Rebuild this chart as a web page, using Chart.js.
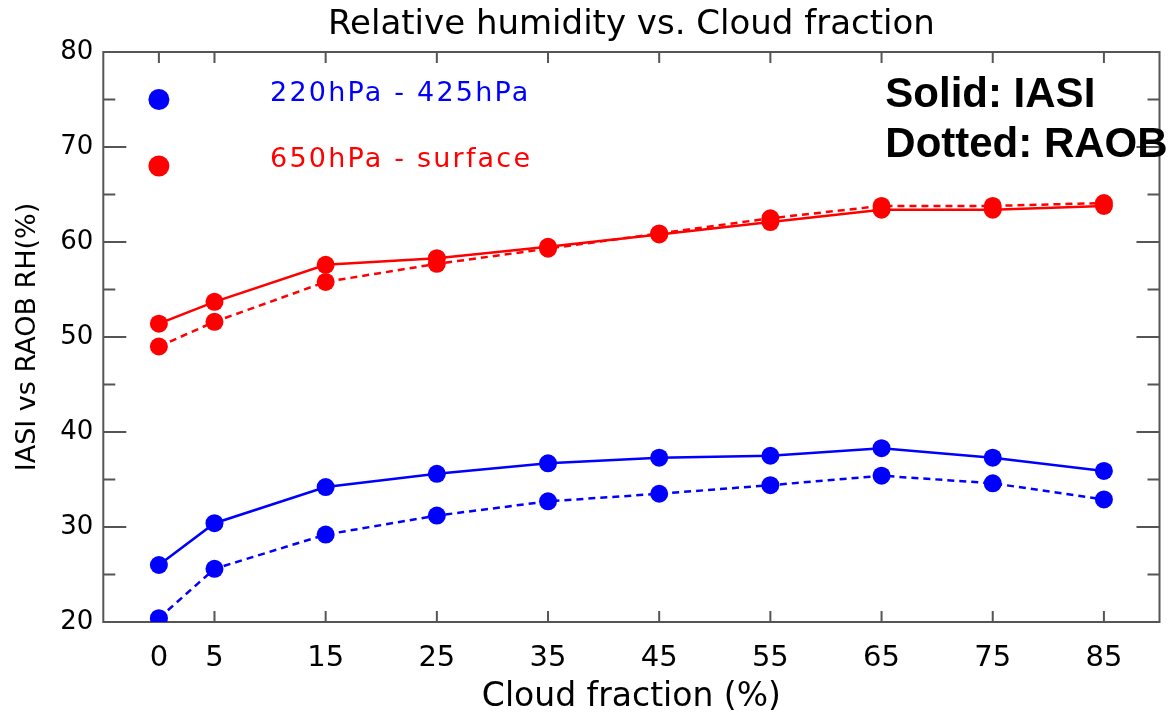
<!DOCTYPE html>
<html>
<head>
<meta charset="utf-8">
<title>Relative humidity vs. Cloud fraction</title>
<script src="https://cdn.jsdelivr.net/npm/chart.js@4.4.1/dist/chart.umd.min.js"></script>
<style>
  html, body { margin: 0; padding: 0; background: #fff; }
  canvas { display: block; }
</style>
</head>
<body>
<canvas id="rh-chart" width="1170" height="718"></canvas>
<script>
// cloud fraction bins (%)
const cloudFraction = [0, 5, 15, 25, 35, 45, 55, 65, 75, 85];
const xTicks = [0, 5, 15, 25, 35, 45, 55, 65, 75, 85];

// 220hPa - 425hPa layer
const upperIASI = [26.0, 30.4, 34.2, 35.6, 36.7, 37.3, 37.5, 38.3, 37.3, 35.9];
const upperRAOB = [20.4, 25.6, 29.2, 31.2, 32.7, 33.5, 34.4, 35.4, 34.6, 32.9];

// 650hPa - surface layer
const lowerIASI = [51.4, 53.7, 57.6, 58.3, 59.5, 60.8, 62.1, 63.4, 63.4, 63.8];
const lowerRAOB = [49.0, 51.6, 55.8, 57.7, 59.3, 60.9, 62.5, 63.8, 63.8, 64.1];

// legend markers are plotted inside the axes at x = 0
const legendY = [75, 68];
const legendLabels = ["220hPa - 425hPa", "650hPa - surface"];

const TITLE = "Relative humidity vs. Cloud fraction";
const BLUE = "#0000ff";
const RED = "#ff0000";
const FONT = "'DejaVu Sans', sans-serif";

Chart.defaults.font.family = FONT;
Chart.defaults.color = "#000";

const toPoints = (ys) => cloudFraction.map((x, i) => ({ x: x, y: ys[i] }));

function lineSet(label, ys, color, dashed) {
  return {
    label: label,
    data: toPoints(ys),
    showLine: true,
    borderColor: color,
    backgroundColor: color,
    borderWidth: 2.5,
    borderDash: dashed ? [7, 5] : [],
    pointRadius: 9,
    pointHoverRadius: 9,
    pointBorderWidth: 0,
    pointBackgroundColor: color,
    clip: 0,
  };
}

function legendDot(y, color) {
  return {
    label: "",
    data: [{ x: 0, y: y }],
    showLine: false,
    pointRadius: 10.5,
    pointBorderWidth: 0,
    pointBackgroundColor: color,
    backgroundColor: color,
  };
}

// box frame with inward ticks on all four sides, plus the text annotations
const frameAxes = {
  id: "frameAxes",
  beforeDatasetsDraw(chart) {
    const { ctx, chartArea: a, scales } = chart;
    const x = scales.x, y = scales.y;
    ctx.save();
    ctx.strokeStyle = "#555";
    ctx.lineWidth = 2;
    ctx.strokeRect(a.left, a.top, a.right - a.left, a.bottom - a.top);
    ctx.beginPath();
    for (let v = y.min; v <= y.max; v += 5) {
      const py = y.getPixelForValue(v);
      const len = v % 10 === 0 ? 23 : 12;
      ctx.moveTo(a.left, py);
      ctx.lineTo(a.left + len, py);
      ctx.moveTo(a.right, py);
      ctx.lineTo(a.right - len, py);
    }
    xTicks.forEach((v) => {
      const px = x.getPixelForValue(v);
      ctx.moveTo(px, a.bottom);
      ctx.lineTo(px, a.bottom - 11);
      ctx.moveTo(px, a.top);
      ctx.lineTo(px, a.top + 11);
    });
    ctx.stroke();
    ctx.restore();
  },
  afterDraw(chart) {
    const { ctx, chartArea: a, scales } = chart;
    const x = scales.x, y = scales.y;
    ctx.save();
    // title centred over the plot box
    ctx.fillStyle = "#000";
    ctx.font = "34px " + FONT;
    ctx.textAlign = "center";
    ctx.textBaseline = "middle";
    ctx.fillText(TITLE, (a.left + a.right) / 2, 25);

    // layer labels next to the legend dots
    ctx.font = "27px " + FONT;
    ctx.letterSpacing = "2.2px";
    ctx.textBaseline = "alphabetic";
    ctx.textAlign = "left";
    [BLUE, RED].forEach((c, i) => {
      ctx.fillStyle = c;
      ctx.fillText(legendLabels[i], x.getPixelForValue(10), y.getPixelForValue(legendY[i]) + 1);
    });

    // line style key
    ctx.letterSpacing = "0px";
    ctx.fillStyle = "#000";
    ctx.font = "bold 42px 'Liberation Sans', Arial, sans-serif";
    ctx.fillText("Solid: IASI", a.left + 782, 107);
    ctx.fillText("Dotted: RAOB", a.left + 782, 157);
    ctx.restore();
  },
};

const chart = new Chart(document.getElementById("rh-chart"), {
  type: "scatter",
  data: {
    datasets: [
      lineSet("220hPa - 425hPa IASI", upperIASI, BLUE, false),
      lineSet("220hPa - 425hPa RAOB", upperRAOB, BLUE, true),
      lineSet("650hPa - surface IASI", lowerIASI, RED, false),
      lineSet("650hPa - surface RAOB", lowerRAOB, RED, true),
      legendDot(legendY[0], BLUE),
      legendDot(legendY[1], RED),
    ],
  },
  options: {
    responsive: false,
    animation: false,
    devicePixelRatio: 1,
    layout: { padding: { left: 0, right: 3, top: 52, bottom: 0 } },
    plugins: {
      legend: { display: false },
      tooltip: { enabled: false },
      title: { display: false },
    },
    scales: {
      x: {
        type: "linear",
        min: -5,
        max: 90,
        afterBuildTicks: (scale) => {
          scale.ticks = xTicks.map((v) => ({ value: v }));
        },
        afterFit: (scale) => {
          scale.height = 96;
        },
        grid: { display: false, drawTicks: false },
        border: { display: false },
        ticks: {
          autoSkip: false,
          maxRotation: 0,
          padding: 18.6,
          font: { size: 29 },
          color: "#000",
        },
        title: {
          display: true,
          text: "Cloud fraction (%)",
          color: "#000",
          font: { size: 33 },
          padding: { top: 0, bottom: 1.2 },
        },
      },
      y: {
        min: 20,
        max: 80,
        afterFit: (scale) => {
          scale.width = 103.3;
        },
        grid: { display: false, drawTicks: false },
        border: { display: false },
        ticks: {
          stepSize: 10,
          padding: 10,
          font: { size: 26 },
          color: "#000",
        },
        title: {
          display: true,
          text: "IASI vs RAOB RH(%)",
          color: "#000",
          font: { size: 27 },
          padding: { top: 12, bottom: 0 },
        },
      },
    },
  },
  plugins: [frameAxes],
});
</script>
</body>
</html>
